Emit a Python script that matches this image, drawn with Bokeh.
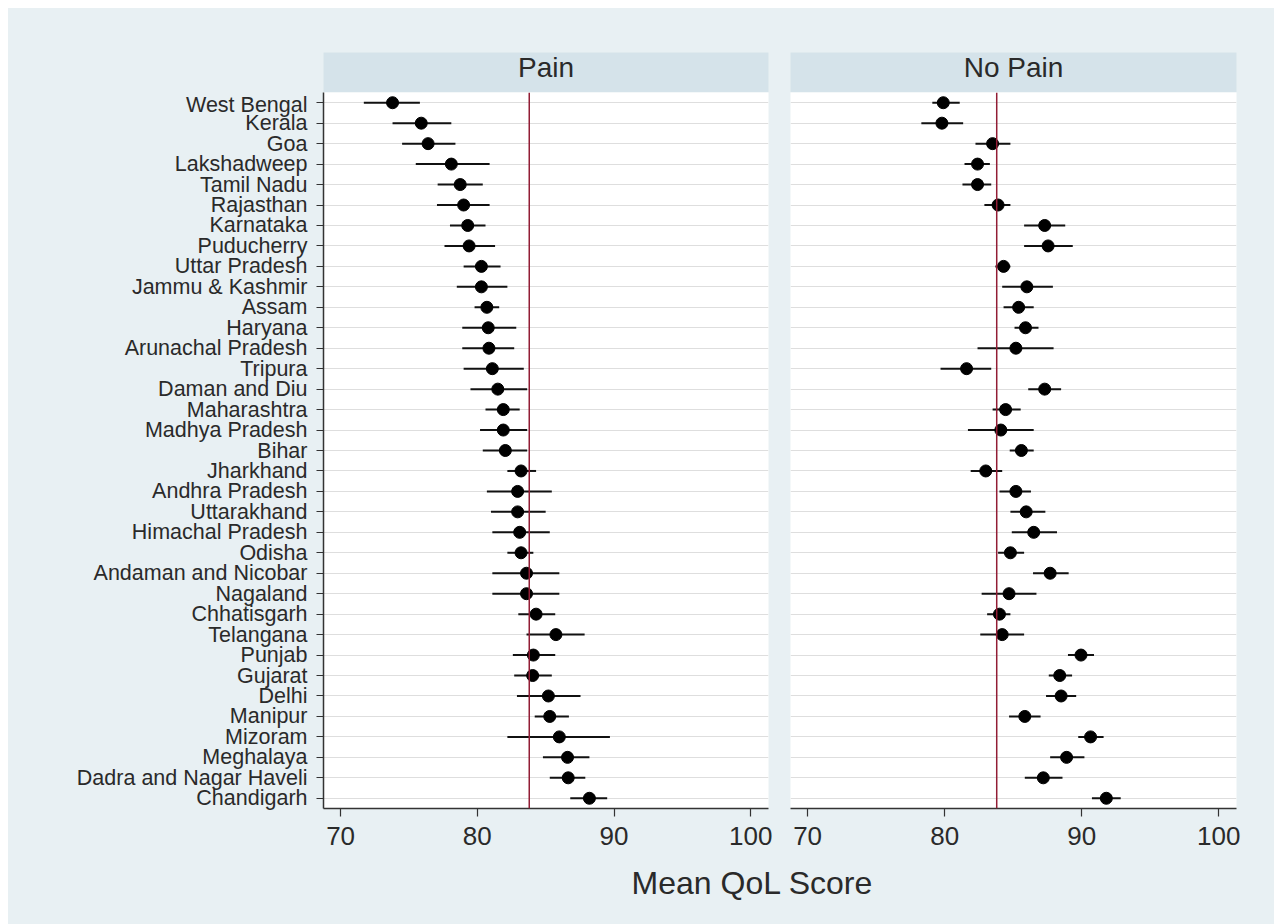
from bokeh.plotting import figure
from bokeh.layouts import row, column
from bokeh.models import Range1d, FactorRange, FixedTicker, ColumnDataSource, Span, Label
from bokeh.embed import file_html
from bokeh.resources import INLINE

# ---------------- data ----------------
states = ["West Bengal", "Kerala", "Goa", "Lakshadweep", "Tamil Nadu", "Rajasthan",
          "Karnataka", "Puducherry", "Uttar Pradesh", "Jammu & Kashmir", "Assam",
          "Haryana", "Arunachal Pradesh", "Tripura", "Daman and Diu", "Maharashtra",
          "Madhya Pradesh", "Bihar", "Jharkhand", "Andhra Pradesh", "Uttarakhand",
          "Himachal Pradesh", "Odisha", "Andaman and Nicobar", "Nagaland", "Chhatisgarh",
          "Telangana", "Punjab", "Gujarat", "Delhi", "Manipur", "Mizoram", "Meghalaya",
          "Dadra and Nagar Haveli", "Chandigarh"]

pain_mean = [73.8, 75.9, 76.4, 78.1, 78.75, 79.0, 79.3, 79.4, 80.3, 80.3, 80.7, 80.8,
             80.85, 81.1, 81.5, 81.9, 81.9, 82.05, 83.2, 82.95, 82.95, 83.1, 83.2, 83.6,
             83.6, 84.3, 85.75, 84.1, 84.05, 85.2, 85.3, 86.0, 86.6, 86.65, 88.2]
pain_lo = [71.7, 73.8, 74.5, 75.5, 77.1, 77.05, 78.0, 77.6, 79.0, 78.5, 79.8, 78.9,
           78.9, 79.0, 79.5, 80.6, 80.2, 80.4, 82.2, 80.7, 81.0, 81.1, 82.2, 81.1,
           81.1, 83.0, 83.6, 82.6, 82.7, 82.9, 84.2, 82.2, 84.8, 85.3, 86.8]
pain_hi = [75.8, 78.1, 78.4, 80.9, 80.4, 80.9, 80.6, 81.3, 81.7, 82.2, 81.6, 82.85,
           82.7, 83.4, 83.65, 83.1, 83.65, 83.65, 84.3, 85.45, 85.0, 85.3, 84.1, 86.0,
           86.0, 85.7, 87.85, 85.7, 85.45, 87.55, 86.7, 89.7, 88.2, 87.9, 89.5]

nopain_mean = [79.9, 79.8, 83.5, 82.4, 82.4, 83.9, 87.3, 87.55, 84.3, 86.0, 85.4, 85.9,
               85.2, 81.6, 87.3, 84.45, 84.1, 85.6, 83.0, 85.2, 85.95, 86.5, 84.8, 87.7,
               84.7, 84.0, 84.2, 89.95, 88.4, 88.5, 85.85, 90.65, 88.9, 87.2, 91.8]
nopain_lo = [79.1, 78.3, 82.25, 81.45, 81.3, 82.9, 85.8, 85.8, 83.7, 84.2, 84.3, 85.1,
             82.4, 79.7, 86.1, 83.5, 81.7, 84.75, 81.9, 84.0, 84.8, 84.9, 83.9, 86.45,
             82.7, 83.1, 82.6, 89.0, 87.6, 87.4, 84.7, 89.75, 87.7, 85.85, 90.75]
nopain_hi = [81.1, 81.35, 84.8, 83.3, 83.4, 84.8, 88.8, 89.35, 84.8, 87.9, 86.5, 86.85,
             87.95, 83.4, 88.5, 85.55, 86.5, 86.5, 84.2, 86.3, 87.35, 88.2, 85.8, 89.05,
             86.7, 84.8, 85.8, 90.9, 89.3, 89.6, 87.0, 91.6, 90.2, 88.6, 92.85]

panels = ["Pain", "No Pain"]
overall_mean = 83.8
x_ticks = [70, 80, 90, 100]
x_title = "Mean QoL Score"

# ---------------- style ----------------
BG = "#e8f0f3"
STRIP = "#d5e3ea"
TXT = "#2a2a2a"
AX = "#333333"
FONT = "Liberation Sans"

WL, WR = 771, 495
BL = [315, 11]
BR = [11, 38]
widths = [WL, WR]


def make_panel(i, mean, lo, hi):
    xr = Range1d(68.75, 101.3)
    # strip header
    s = figure(width=widths[i], height=84, x_range=xr, y_range=Range1d(0, 1),
               x_axis_type=None, y_axis_type=None, toolbar_location=None,
               output_backend="svg", min_border_left=BL[i], min_border_right=BR[i],
               min_border_top=44, min_border_bottom=0)
    s.background_fill_color = STRIP
    s.border_fill_color = BG
    s.outline_line_color = None
    s.add_layout(Label(x=(xr.start + xr.end) / 2, y=0.62, text=panels[i],
                       text_align="center", text_baseline="middle",
                       text_font=FONT, text_font_size="28px", text_color=TXT))

    src = ColumnDataSource(dict(state=states, mean=mean, lo=lo, hi=hi))
    p = figure(width=widths[i], height=768, x_range=xr,
               y_range=FactorRange(factors=list(reversed(states))),
               toolbar_location=None, output_backend="svg",
               min_border_left=BL[i], min_border_right=BR[i],
               min_border_top=0, min_border_bottom=52)
    p.background_fill_color = "white"
    p.border_fill_color = BG
    p.outline_line_color = None
    p.xgrid.grid_line_color = None
    p.ygrid.grid_line_color = "#dedede"
    p.ygrid.grid_line_width = 1

    p.add_layout(Span(location=overall_mean, dimension="height",
                      line_color="#921d35", line_width=1.5))
    p.segment(x0="lo", y0="state", x1="hi", y1="state", source=src,
              line_color="#111111", line_width=2)
    p.scatter(x="mean", y="state", source=src, size=12, color="#000000")

    xa = p.xaxis[0]
    xa.ticker = FixedTicker(ticks=x_ticks)
    xa.minor_tick_line_color = None
    xa.major_tick_in = 0
    xa.major_tick_out = 8
    xa.major_label_standoff = 10
    xa.axis_line_color = AX
    xa.axis_line_width = 1.5
    xa.major_tick_line_color = AX
    xa.major_tick_line_width = 1.2
    xa.major_label_text_font = FONT
    xa.major_label_text_font_size = "26px"
    xa.major_label_text_color = TXT

    ya = p.yaxis[0]
    if i == 0:
        ya.major_tick_in = 0
        ya.major_tick_out = 7
        ya.major_label_standoff = 9
        ya.axis_line_color = AX
        ya.axis_line_width = 1.5
        ya.major_tick_line_color = AX
        ya.major_tick_line_width = 1.2
        ya.major_label_text_font = FONT
        ya.major_label_text_font_size = "21.5px"
        ya.major_label_text_color = TXT
    else:
        ya.visible = False
    return column(s, p, spacing=0, styles={"background-color": BG})


left = make_panel(0, pain_mean, pain_lo, pain_hi)
right = make_panel(1, nopain_mean, nopain_lo, nopain_hi)

b = figure(width=WL + WR, height=64, x_range=Range1d(0, WL + WR), y_range=Range1d(0, 64),
           x_axis_type=None, y_axis_type=None, toolbar_location=None,
           output_backend="svg", min_border=0)
b.background_fill_color = BG
b.border_fill_color = BG
b.outline_line_color = None
b.add_layout(Label(x=744, y=42, text=x_title, text_align="center",
                   text_baseline="middle", text_font=FONT,
                   text_font_size="32px", text_color=TXT))

inner = column(row(left, right, spacing=0, styles={"background-color": BG}), b,
               spacing=0, styles={"background-color": BG})
layout = column(inner, margin=(8, 0, 0, 8))

open("out.html", "w").write(file_html(layout, INLINE))
